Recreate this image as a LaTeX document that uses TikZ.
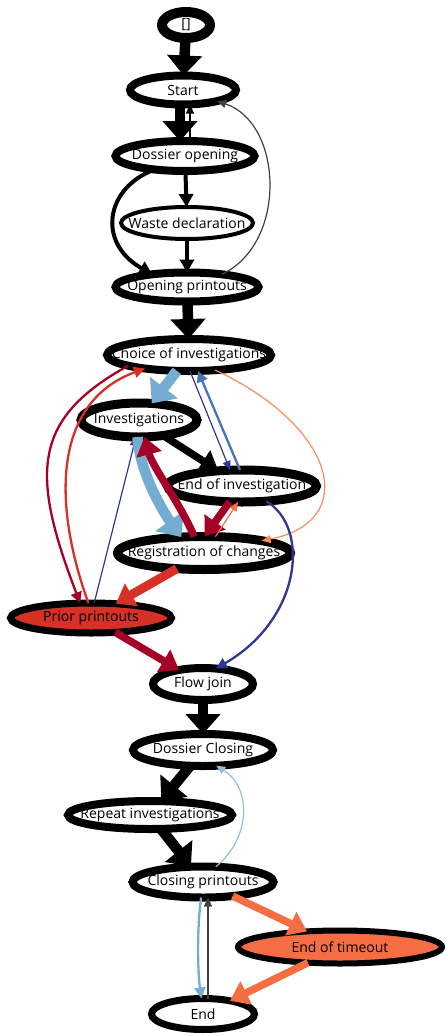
\documentclass[tikz,border=0pt]{standalone}
\usepackage{fontspec}
\usepackage{tikz}
\usetikzlibrary{shapes.geometric, arrows.meta}

\newfontfamily\statefont{Open Sans}

\definecolor{crimson}{HTML}{A50026}
\definecolor{scarlet}{HTML}{D73027}
\definecolor{coral}{HTML}{F46D43}
\definecolor{salmon}{HTML}{FC8D59}
\definecolor{indigo}{HTML}{313695}
\definecolor{steel}{HTML}{4575B4}
\definecolor{sky}{HTML}{74ADD1}
\definecolor{pale}{HTML}{91BFDB}
\definecolor{graphite}{HTML}{404040}

\begin{document}
\begin{tikzpicture}[x=1pt, y=-1pt,
    ring/.style={ellipse, draw, inner sep=0pt, outer sep=0pt},
    state/.style n args={3}{ellipse, fill=white, inner sep=0pt, outer sep=0pt,
        minimum width=#1pt, minimum height=#2pt,
        font=\statefont\fontsize{14}{16}\selectfont,
        execute at begin node={\hbox to 0pt\bgroup\hss},
        execute at end node={\hss\egroup},
        append after command={node[ring, line width=#3pt, minimum width=#1pt, minimum height=#2pt] at (\tikzlastnode.center) {}}},
    flowXS/.style={line width=1.2pt, -{Triangle[width=8pt,length=9pt]}},
    flowS/.style={line width=2.3pt, -{Triangle[width=11pt,length=11pt]}},
    flowM/.style={line width=4pt, -{Triangle[width=14pt,length=13pt]}},
    flowL/.style={line width=7.5pt, -{Triangle[width=25pt,length=18pt]}},
    flowXL/.style={line width=10.5pt, -{Triangle[width=34pt,length=20pt]}}
]
\useasboundingbox (0,0) rectangle (445,1036);

% States
\node[state={48}{26}{10}] (init) at (186,25) {[]};
\node[state={106}{29}{8}] (start) at (183,90) {Start};
\node[state={139}{30}{8}] (dopen) at (185,156) {Dossier opening};
\node[state={132}{32}{4}] (waste) at (187,223) {Waste declaration};
\node[state={143}{29}{8}] (oprint) at (187,287) {Opening printouts};
\node[state={164}{32}{8}] (choice) at (189,355) {Choice of investigations};
\node[state={116}{34}{9}] (invest) at (139,420) {Investigations};
\node[state={149}{32}{9}] (endinv) at (242,486) {End of investigation};
\node[state={173}{33}{9}] (regist) at (204,553) {Registration of changes};
\node[state={161}{30}{7}, fill=scarlet] (prior) at (91,618) {Prior printouts};
\node[state={100}{32}{8}] (fjoin) at (203,684) {Flow join};
\node[state={140}{32}{8}] (dclose) at (203,750) {Dossier Closing};
\node[state={164}{28}{8}] (repeat) at (150,815) {Repeat investigations};
\node[state={141}{31}{8}] (cprint) at (203,882) {Closing printouts};
\node[state={204}{33}{6}, fill=coral] (timeout) at (340,947) {End of timeout};
\node[state={103}{31}{7}] (finish) at (203,1014) {End};

% Opening part
\draw[flowXL] (init) -- (start);
\draw[flowXL] ([xshift=-3pt]start.south) -- ([xshift=-5pt]dopen.north);
\draw[flowXS] ([xshift=5pt]dopen.north) -- ([xshift=7pt]start.south);
\draw[flowXS, graphite] (oprint.20) .. controls +(66,-31) and +(66,22) .. (start.-18);
\draw[flowM] (dopen) -- (waste);
\draw[flowM] (dopen.-156) .. controls +(-49,18) and +(-56,-32) .. (oprint.160);
\draw[flowM] (waste) -- (oprint);
\draw[flowXL] (oprint) -- (choice);

% Investigation loop
\draw[flowXL, sky] (choice) -- (invest);
\draw[flowXS, indigo] ([xshift=1pt]choice.south) -- ([xshift=-12pt]endinv.north);
\draw[flowS, steel] ([xshift=-2pt]endinv.north) -- ([xshift=9pt]choice.south);
\draw[flowXS, salmon] (choice.-30) .. controls +(122,57) and +(98,-19) .. (regist.12);
\draw[flowS, crimson] (choice.-170) .. controls +(-96,53) and +(-50,-130) .. (prior.126);
\draw[flowS, scarlet] (prior.100) .. controls +(-36,-100) and +(-92,34) .. (choice.-163);
\draw[flowXS, indigo] (prior.78) -- (invest.-100);
\draw[flowL] (invest) -- (endinv);
\draw[flowXL, sky] (invest.-95) .. controls +(2,35) and +(-18,-25) .. (regist.145);
\draw[flowL, crimson] (regist.121) .. controls +(-12,-30) and +(8,30) .. (invest.-72);
\draw[flowL, crimson] (endinv.-128) -- (regist.88);
\draw[flowXS, coral] (regist.55) -- (endinv.-104);
\draw[flowS, indigo] (endinv.-32) .. controls +(44,26) and +(86,-50) .. (fjoin.50);
\draw[flowL, scarlet, line width=9pt] (regist) -- (prior);
\draw[flowL, crimson] (prior) -- (fjoin);

% Closing part
\draw[flowXL] (fjoin) -- (dclose);
\draw[flowXL] (dclose) -- (repeat);
\draw[flowXS, pale] (cprint.50) .. controls +(35,-28) and +(36,22) .. (dclose.-50);
\draw[flowXL] (repeat) -- (cprint);
\draw[flowS, sky] (cprint.-97) .. controls +(-4,30) and +(-4,-30) .. (finish.96);
\draw[flowXS, graphite] ([xshift=5pt]finish.north) -- ([xshift=5pt]cprint.south);
\draw[flowL, coral] (cprint) -- (timeout);
\draw[flowL, coral] (timeout) -- (finish);

\end{tikzpicture}
\end{document}
